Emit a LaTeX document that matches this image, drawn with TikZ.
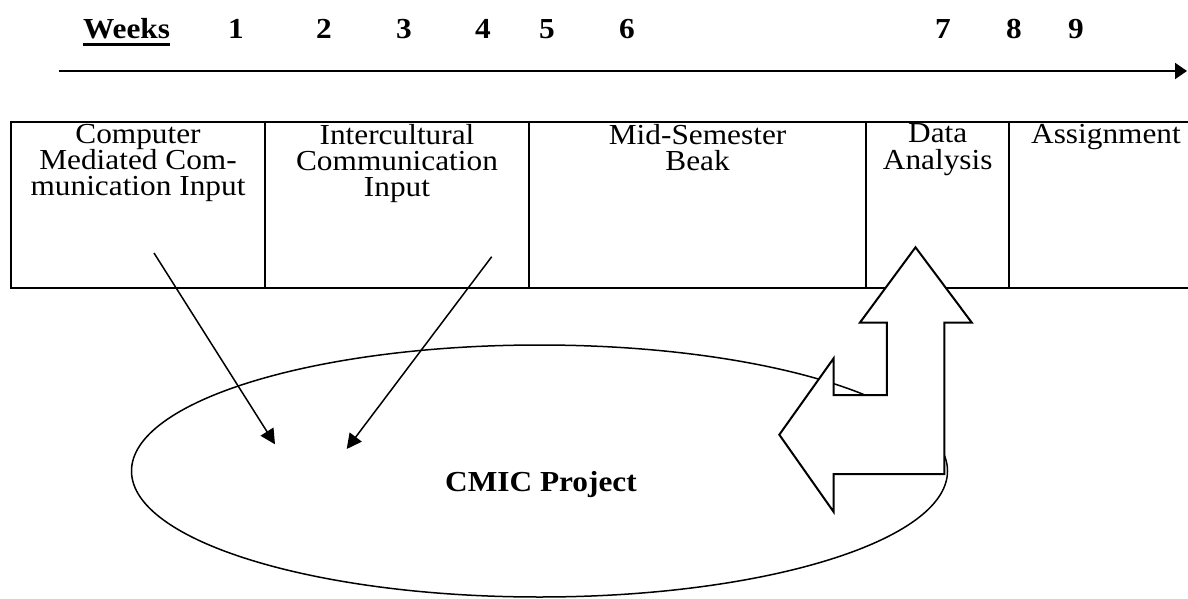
\documentclass[tikz,border=0pt]{standalone}
\usepackage{fontspec}
\usepackage{graphicx}
\setmainfont{Liberation Serif}
\usetikzlibrary{arrows.meta}
\newcommand{\hs}[1]{\scalebox{1.08}[1]{#1}}
\begin{document}
\begin{tikzpicture}[x=0.5pt,y=-0.5pt,
  hdr/.style={font=\fontsize{14.5}{13.2}\selectfont\bfseries, inner sep=0pt, anchor=base},
  celltext/.style={font=\fontsize{14.5}{13.2}\selectfont, inner sep=0pt, anchor=north, align=center},
  gridline/.style={line width=1pt},
  conn/.style={line width=0.75pt, -{Triangle[length=7.5pt,width=7.5pt]}},
  blockarrow/.style={line width=1pt, fill=white, line join=miter},
  timeline/.style={line width=1pt, -{Triangle[length=6pt,width=8pt]}}]
\useasboundingbox (0,0) rectangle (1188,599);
\begin{scope}
\clip (0,0) rectangle (1188,599);
% header
\node[hdr] (wk) at (126.5,39) {\hs{Weeks}};
\draw[line width=1.5pt] ([yshift=-3pt]wk.base west) -- ([yshift=-3pt]wk.base east);
\node[hdr] (n1) at (236,39) {\hs{1}};
\node[hdr] (n2) at (324,39) {\hs{2}};
\node[hdr] (n3) at (404,39) {\hs{3}};
\node[hdr] (n4) at (483,39) {\hs{4}};
\node[hdr] (n5) at (547,39) {\hs{5}};
\node[hdr] (n6) at (627,39) {\hs{6}};
\node[hdr] (n7) at (943,39) {\hs{7}};
\node[hdr] (n8) at (1014,39) {\hs{8}};
\node[hdr] (n9) at (1076,39) {\hs{9}};
\coordinate (tl0) at (59,71);
\coordinate (tl1) at (1187,71);
\draw[timeline] (tl0) -- (tl1);
% table
\draw[gridline] (1203,121.7) -- (11,121.7) -- (11,287.7) -- (1203,287.7);
\draw[gridline] (265,121.7) -- (265,287.7);
\draw[gridline] (529.3,121.7) -- (529.3,287.7);
\draw[gridline] (866,121.7) -- (866,287.7);
\draw[gridline] (1009.3,121.7) -- (1009.3,287.7);
\node[celltext] (c1) at (138,123.5) {\hs{Computer}\\\hs{Mediated Com-}\\\hs{munication Input}};
\node[celltext] (c2) at (397,123.5) {\hs{Intercultural}\\\hs{Communication}\\\hs{Input}};
\node[celltext] (c3) at (697.6,123.5) {\hs{Mid-Semester}\\\hs{Beak}};
\node[celltext] (c4) at (937.7,123.5) {\hs{Data}\\\hs{Analysis}};
\node[celltext] (c5) at (1106,123.5) {\hs{Assignment}};
% ellipse
\draw[line width=0.75pt] (539.5,471) ellipse [x radius=204pt, y radius=63pt];
\node[hdr] (cmic) at (541,491.7) {\hs{CMIC Project}};
% connectors
\coordinate (a1s) at (154,253);
\coordinate (a1e) at (275,444.3);
\coordinate (a2s) at (491.7,256.7);
\coordinate (a2e) at (346.7,449);
\draw[conn] (a1s) -- (a1e);
\draw[conn] (a2s) -- (a2e);
% bent double block arrow
\draw[blockarrow] (915.5,247.3) -- (971.7,322.5) -- (944.3,322.5) -- (944.3,474)
  -- (833.5,474) -- (833.5,511.7) -- (779.3,434.7) -- (833.5,358.5)
  -- (833.5,395) -- (886.8,395) -- (886.8,322.5) -- (860,322.5) -- cycle;
\end{scope}
\end{tikzpicture}
\end{document}
